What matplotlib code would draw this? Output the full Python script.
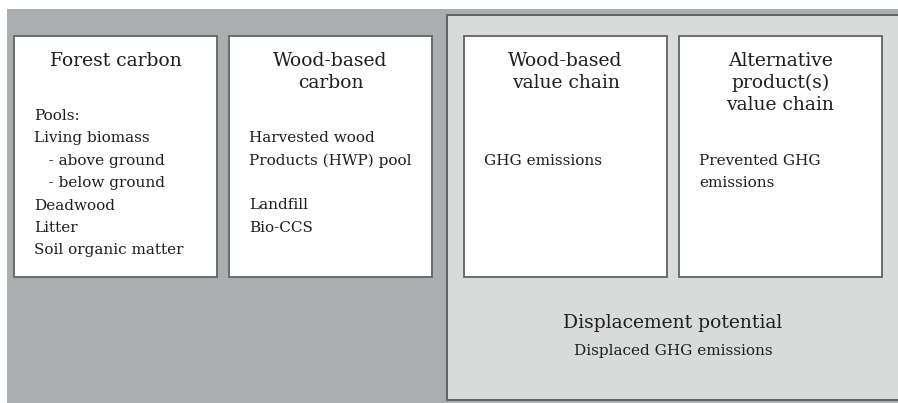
import matplotlib.pyplot as plt
from matplotlib.patches import Rectangle

# box titles and contents
titles = ["Forest carbon", "Wood-based\ncarbon", "Wood-based\nvalue chain",
          "Alternative\nproduct(s)\nvalue chain"]
contents = [
    ["Pools:", "Living biomass", "   - above ground", "   - below ground",
     "Deadwood", "Litter", "Soil organic matter"],
    ["Harvested wood", "Products (HWP) pool", "", "Landfill", "Bio-CCS"],
    ["GHG emissions"],
    ["Prevented GHG", "emissions"],
]
content_start = [116, 138, 161, 161]
footer_title = "Displacement potential"
footer_sub = "Displaced GHG emissions"

# layout (pixels)
box_x = [14, 229, 464, 679]
box_w = 203
box_top, box_bot = 36, 277
line_h = 22.4
FONT = "DejaVu Serif"
TXT = "#1e1e1e"

fig = plt.figure(figsize=(8.98, 4.03), dpi=100)
ax = fig.add_axes([0, 0, 1, 1])
ax.set_xlim(0, 898)
ax.set_ylim(403, 0)
ax.axis("off")

ax.add_patch(Rectangle((7, 9), 900, 400, facecolor="#aaaeae", edgecolor="none"))
ax.add_patch(Rectangle((447, 15), 460, 385, facecolor="#d9dbda",
                       edgecolor="#5f6161", linewidth=1.4))

for i, (x, title, lines) in enumerate(zip(box_x, titles, contents)):
    ax.add_patch(Rectangle((x, box_top), box_w, box_bot - box_top,
                           facecolor="white", edgecolor="#6a6c6c", linewidth=1.4))
    for k, tl in enumerate(title.split("\n")):
        ax.text(x + box_w / 2, 61 + k * 22, tl, ha="center", va="center",
                family=FONT, fontsize=13.5, color=TXT)
    for j, line in enumerate(lines):
        ax.text(x + 20, content_start[i] + j * line_h, line, ha="left",
                va="center", family=FONT, fontsize=11, color=TXT)

ax.text(673, 323, footer_title, ha="center", va="center", family=FONT,
        fontsize=13.5, color=TXT)
ax.text(673, 351, footer_sub, ha="center", va="center", family=FONT,
        fontsize=11, color=TXT)

fig.savefig("out.png", dpi=100)
